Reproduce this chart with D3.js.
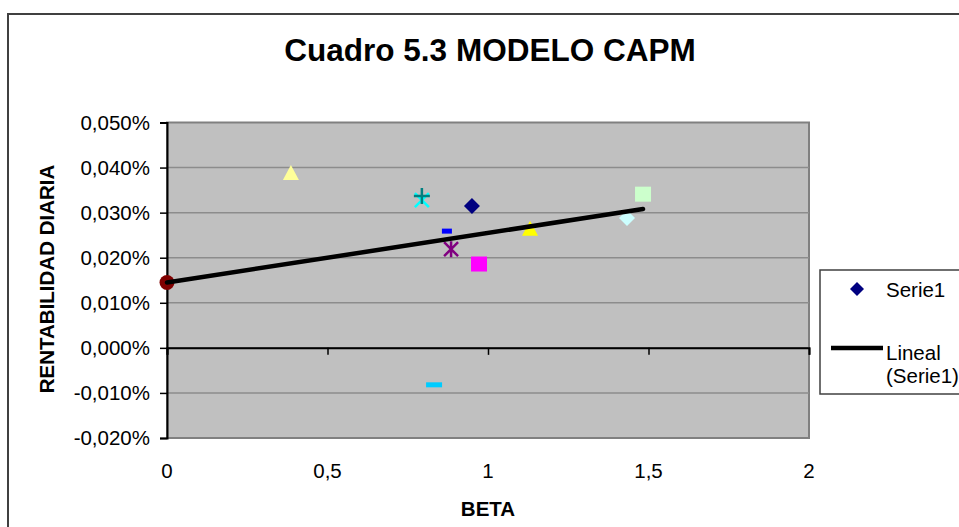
<!DOCTYPE html>
<html><head><meta charset="utf-8">
<script src="https://cdn.jsdelivr.net/npm/d3@7"></script>
<style>
html,body{margin:0;padding:0;background:#fff;}
svg{display:block;font-family:"Liberation Sans",Arial,sans-serif;}
</style></head>
<body>
<svg id="chart" width="959" height="527"></svg>
<script>
// ---- data ----
const title = "Cuadro 5.3 MODELO CAPM";
const xLabel = "BETA";
const yLabel = "RENTABILIDAD DIARIA";
const betas   = [0, 0.386, 0.794, 0.794, 0.950, 0.872, 0.885, 0.972, 1.131, 1.433, 1.483, 0.832];
const returns = [0.0145, 0.0388, 0.0328, 0.0337, 0.0315, 0.0259, 0.0219, 0.0186, 0.0264, 0.0288, 0.0341, -0.0082]; // in %
const trendX = [0, 1.483];
const trendY = [0.0145, 0.0308];
const xTicks = [0, 0.5, 1, 1.5, 2];
const yTicks = [-0.02, -0.01, 0, 0.01, 0.02, 0.03, 0.04, 0.05];
const legendLabels = ["Serie1", "Lineal", "(Serie1)"];

// ---- per-point styles ----
const markerShapes = ["circle","triangle","x","plus","diamond","dashSmall","star","square","triangle","diamond","square","dash"];
const markerColors = ["#800000","#FFFF99","#00FFFF","#008080","#000080","#0000FF","#800080","#FF00FF","#FFFF00","#CCFFFF","#CCFFCC","#00CCFF"];

const svg = d3.select("#chart");

// outer chart border
svg.append("rect").attr("x",8).attr("y",14).attr("width",1100).attr("height",700)
  .attr("fill","#fff").attr("stroke","#404040").attr("stroke-width",2);

const plot = {l:167, r:809, t:122.5, b:438};
const x = d3.scaleLinear().domain([0,2]).range([plot.l, plot.r]);
const y = d3.scaleLinear().domain([-0.02,0.05]).range([plot.b, plot.t]);

// plot area
svg.append("rect").attr("x",plot.l).attr("y",plot.t).attr("width",plot.r-plot.l).attr("height",plot.b-plot.t)
  .attr("fill","#C0C0C0").attr("stroke","#808080").attr("stroke-width",2);

// gridlines
svg.append("g").selectAll("line").data(yTicks.filter(v=>v>-0.02 && v<0.05)).join("line")
  .attr("x1",plot.l).attr("x2",plot.r).attr("y1",d=>y(d)).attr("y2",d=>y(d))
  .attr("stroke","#8c8c8c").attr("stroke-width",1.5);

const fmtY = d => (d < 0 ? "-" : "") + Math.abs(d).toFixed(3).replace(".",",") + "%";
const fmtX = d => String(d).replace(".",",");

// y axis
const yAxis = d3.axisLeft(y).tickValues(yTicks).tickFormat(fmtY).tickSize(7).tickPadding(10);
const gy = svg.append("g").attr("transform",`translate(${plot.l},0)`).call(yAxis);
gy.select(".domain").attr("stroke","#000").attr("stroke-width",2);
gy.selectAll(".tick line").attr("stroke","#000").attr("stroke-width",1.5);
gy.selectAll(".tick text").attr("font-size",20.5).attr("fill","#000")
  .attr("font-family","'Liberation Sans',Arial,sans-serif");

// x axis line at y=0 with ticks
const xAxis = d3.axisBottom(x).tickValues(xTicks).tickFormat("").tickSize(7);
const gx = svg.append("g").attr("transform",`translate(0,${y(0)})`).call(xAxis);
gx.select(".domain").attr("stroke","#000").attr("stroke-width",2);
gx.selectAll(".tick line").attr("stroke","#000").attr("stroke-width",1.5);
// x tick labels low
svg.append("g").selectAll("text").data(xTicks).join("text")
  .attr("x",d=>x(d)).attr("y",471).attr("dy","0.35em").attr("text-anchor","middle")
  .attr("font-size",20.5).attr("fill","#000").text(fmtX);

// markers
const g = svg.append("g");
betas.forEach((b,i)=>{
  const cx = x(b), cy = y(returns[i]), c = markerColors[i], s = markerShapes[i];
  switch(s){
    case "circle": g.append("circle").attr("cx",cx).attr("cy",cy).attr("r",7.5).attr("fill",c); break;
    case "triangle": g.append("path").attr("d",`M${cx},${cy-8}L${cx+8},${cy+7}L${cx-8},${cy+7}Z`).attr("fill",c); break;
    case "diamond": g.append("path").attr("d",`M${cx},${cy-8}L${cx+8},${cy}L${cx},${cy+8}L${cx-8},${cy}Z`).attr("fill",c); break;
    case "square": g.append("rect").attr("x",cx-8).attr("y",cy-7.5).attr("width",16).attr("height",15).attr("fill",c); break;
    case "dash": g.append("rect").attr("x",cx-8).attr("y",cy-2.5).attr("width",16).attr("height",5).attr("fill",c); break;
    case "dashSmall": g.append("rect").attr("x",cx-5).attr("y",cy-2.5).attr("width",10).attr("height",5).attr("fill",c); break;
    case "plus":
      g.append("path").attr("d",`M${cx-8},${cy}H${cx+8}M${cx},${cy-8}V${cy+8}`).attr("stroke",c).attr("stroke-width",2.5).attr("fill","none"); break;
    case "x":
      g.append("path").attr("d",`M${cx-7},${cy-7}L${cx+7},${cy+7}M${cx+7},${cy-7}L${cx-7},${cy+7}`).attr("stroke",c).attr("stroke-width",2.5).attr("fill","none"); break;
    case "star":
      g.append("path").attr("d",`M${cx-7},${cy-7}L${cx+7},${cy+7}M${cx+7},${cy-7}L${cx-7},${cy+7}M${cx},${cy-8}V${cy+8}`).attr("stroke",c).attr("stroke-width",2.5).attr("fill","none"); break;
  }
});

// trend line
const line = d3.line().x((d,i)=>x(trendX[i])).y((d,i)=>y(trendY[i]));
svg.append("path").datum(trendX).attr("d",line).attr("stroke","#000").attr("stroke-width",4.5)
  .attr("stroke-linecap","round").attr("fill","none");

// title
svg.append("text").attr("x",490).attr("y",61).attr("text-anchor","middle")
  .attr("font-size",31.5).attr("font-weight","bold").text(title);
// axis titles
svg.append("text").attr("x",488).attr("y",516).attr("text-anchor","middle")
  .attr("font-size",20.5).attr("font-weight","bold").text(xLabel);
svg.append("text").attr("transform","translate(54,279) rotate(-90)").attr("text-anchor","middle")
  .attr("font-size",20.5).attr("font-weight","bold").text(yLabel);

// legend
svg.append("rect").attr("x",820).attr("y",270).attr("width",300).attr("height",124)
  .attr("fill","#fff").attr("stroke","#404040").attr("stroke-width",1.5);
const lx = 857, ly = 289;
svg.append("path").attr("d",`M${lx},${ly-7}L${lx+7},${ly}L${lx},${ly+7}L${lx-7},${ly}Z`).attr("fill","#000080");
svg.append("text").attr("x",886).attr("y",297).attr("font-size",20.5).text(legendLabels[0]);
svg.append("line").attr("x1",831).attr("x2",883).attr("y1",348).attr("y2",348).attr("stroke","#000").attr("stroke-width",4.5);
svg.append("text").attr("x",886).attr("y",360).attr("font-size",20.5).text(legendLabels[1]);
svg.append("text").attr("x",886).attr("y",383).attr("font-size",20.5).text(legendLabels[2]);
</script>
</body></html>
